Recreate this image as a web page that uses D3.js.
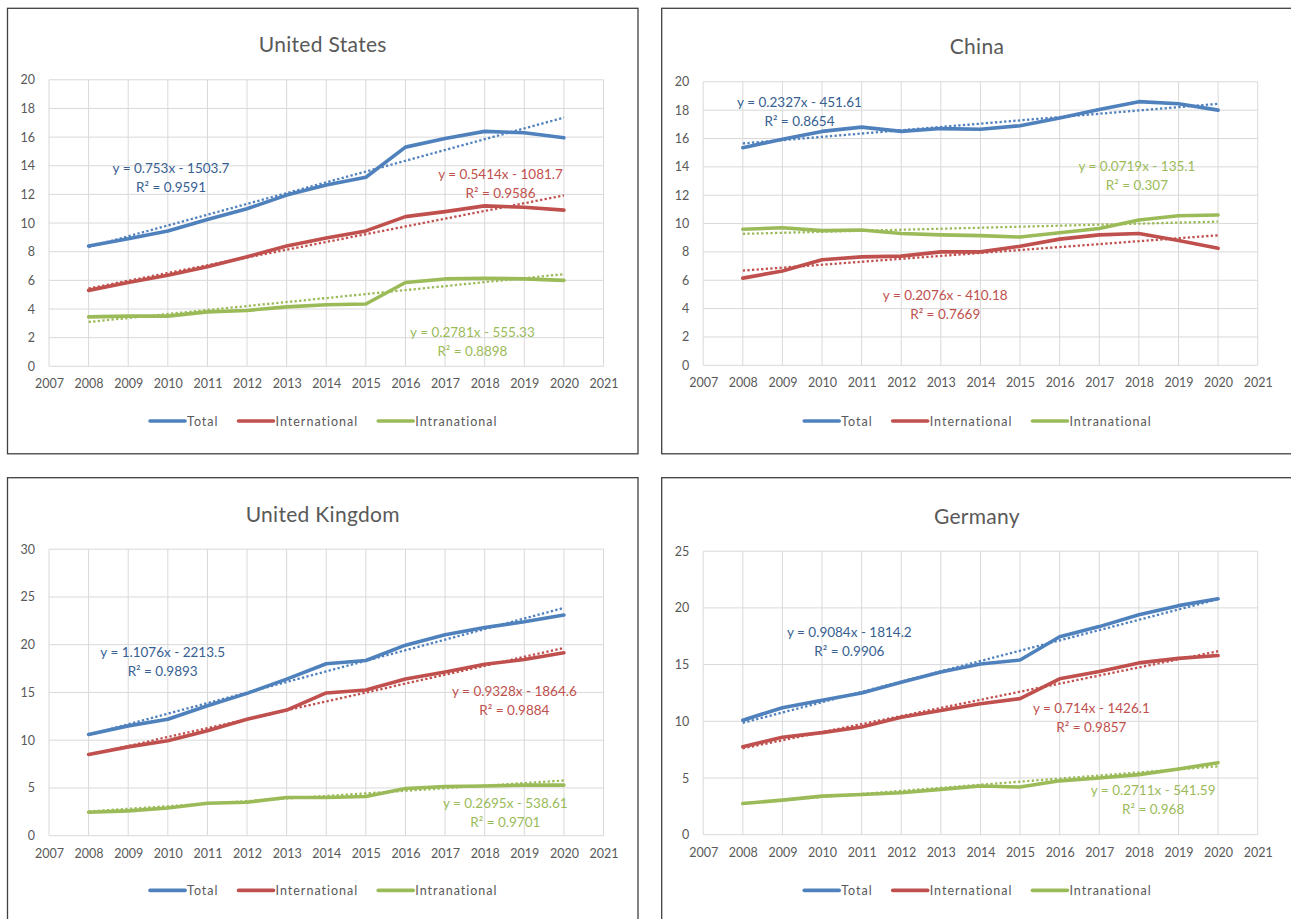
<!DOCTYPE html>
<html>
<head>
<meta charset="utf-8">
<script src="https://cdn.jsdelivr.net/npm/d3@7"></script>
<style>
  body { margin: 0; background: #fff; }
  svg { display: block; }
</style>
</head>
<body>
<svg id="chart" width="1291" height="919"></svg>
<script>
// values
const years = [2008, 2009, 2010, 2011, 2012, 2013, 2014, 2015, 2016, 2017, 2018, 2019, 2020];
const series_names = ['Total', 'International', 'Intranational'];

const us_total = [8.4, 8.9, 9.45, 10.25, 11.0, 11.95, 12.65, 13.2, 15.3, 15.9, 16.4, 16.3, 15.95];
const us_international = [5.3, 5.85, 6.35, 6.95, 7.65, 8.4, 8.95, 9.45, 10.45, 10.8, 11.2, 11.1, 10.9];
const us_intranational = [3.45, 3.5, 3.5, 3.8, 3.9, 4.15, 4.3, 4.35, 5.85, 6.1, 6.15, 6.1, 6.0];

const cn_total = [15.35, 15.95, 16.5, 16.8, 16.5, 16.7, 16.65, 16.9, 17.45, 18.05, 18.6, 18.45, 18.0];
const cn_international = [6.15, 6.65, 7.45, 7.65, 7.7, 8.0, 8.0, 8.4, 8.9, 9.2, 9.3, 8.8, 8.25];
const cn_intranational = [9.6, 9.7, 9.5, 9.55, 9.3, 9.2, 9.15, 9.05, 9.35, 9.65, 10.25, 10.55, 10.6];

const uk_total = [10.6, 11.5, 12.2, 13.6, 14.9, 16.4, 18.0, 18.35, 19.95, 21.05, 21.8, 22.4, 23.1];
const uk_international = [8.5, 9.3, 9.95, 11.0, 12.2, 13.15, 14.95, 15.25, 16.4, 17.15, 17.95, 18.45, 19.15];
const uk_intranational = [2.45, 2.6, 2.9, 3.4, 3.5, 4.0, 4.0, 4.1, 4.95, 5.15, 5.2, 5.3, 5.3];

const de_total = [10.1, 11.2, 11.85, 12.5, 13.45, 14.35, 15.05, 15.4, 17.45, 18.35, 19.4, 20.2, 20.8];
const de_international = [7.75, 8.6, 9.0, 9.5, 10.35, 10.95, 11.55, 12.0, 13.75, 14.4, 15.15, 15.55, 15.8];
const de_intranational = [2.75, 3.05, 3.4, 3.55, 3.7, 4.0, 4.3, 4.2, 4.75, 5.0, 5.3, 5.8, 6.35];

// trendline equations printed on the chart: [slope, intercept, r2]
const us_trends = [[0.753, -1503.7, 0.9591], [0.5414, -1081.7, 0.9586], [0.2781, -555.33, 0.8898]];
const cn_trends = [[0.2327, -451.61, 0.8654], [0.2076, -410.18, 0.7669], [0.0719, -135.1, 0.307]];
const uk_trends = [[1.1076, -2213.5, 0.9893], [0.9328, -1864.6, 0.9884], [0.2695, -538.61, 0.9701]];
const de_trends = [[0.9084, -1814.2, 0.9906], [0.714, -1426.1, 0.9857], [0.2711, -541.59, 0.968]];

const x_ticks = d3.range(2007, 2022);

const colors = ['#4F81BD', '#C0504D', '#9BBB59'];
const label_colors = ['#376092', '#C0504D', '#9BBB59'];
const font = 'Lato, "Open Sans", sans-serif';
const grey = '#595959';

const panel_w = 630.5, panel_h = 445.5;

const panels = [
    { title: 'United States', x: 7.5, y: 8.3, dy: 0, max: 20, step: 2,
      data: [us_total, us_international, us_intranational], trends: us_trends,
      labels: [[2010.08, 13.84], [2018.4, 13.43], [2017.69, 2.37]] },
    { title: 'China', x: 661.7, y: 8.3, dy: 2, max: 20, step: 2,
      data: [cn_total, cn_international, cn_intranational], trends: cn_trends,
      labels: [[2009.43, 18.56], [2013.11, 4.94], [2017.95, 14.04]] },
    { title: 'United Kingdom', x: 7.5, y: 477.7, dy: 0, max: 30, step: 5,
      data: [uk_total, uk_international, uk_intranational], trends: uk_trends,
      labels: [[2009.87, 19.22], [2018.75, 15.14], [2018.52, 3.42]] },
    { title: 'Germany', x: 661.7, y: 477.7, dy: 2, max: 25, step: 5,
      data: [de_total, de_international, de_intranational], trends: de_trends,
      labels: [[2010.69, 17.84], [2016.8, 11.14], [2018.36, 3.91]] },
];

const svg = d3.select('#chart');

function draw_panel(p) {
    const g = svg.append('g').attr('transform', `translate(${p.x}, ${p.y})`);

    g.append('rect')
        .attr('width', panel_w)
        .attr('height', panel_h)
        .attr('fill', '#fff')
        .attr('stroke', '#404040')
        .attr('stroke-width', 1.3);

    const left = 41.5, right = 596, top = 71.5 + p.dy, bottom = 358 - p.dy / 2;

    const x = d3.scaleLinear().domain([2007, 2021]).range([left, right]);
    const y = d3.scaleLinear().domain([0, p.max]).range([bottom, top]);
    const y_ticks = d3.range(0, p.max + 0.001, p.step);

    g.append('text')
        .attr('x', panel_w / 2)
        .attr('y', 35.5 + p.dy)
        .attr('text-anchor', 'middle')
        .attr('dominant-baseline', 'central')
        .style('font-family', font)
        .style('font-size', '21px')
        .style('letter-spacing', '0.3px')
        .style('fill', grey)
        .text(p.title);

    // grid
    g.append('g').selectAll('line')
        .data(y_ticks)
        .join('line')
        .attr('x1', left).attr('x2', right)
        .attr('y1', d => y(d)).attr('y2', d => y(d))
        .attr('stroke', '#D9D9D9').attr('stroke-width', 1);

    g.append('g').selectAll('line')
        .data(x_ticks)
        .join('line')
        .attr('x1', d => x(d)).attr('x2', d => x(d))
        .attr('y1', top).attr('y2', bottom)
        .attr('stroke', '#D9D9D9').attr('stroke-width', 1);

    // axes
    const y_axis = g.append('g')
        .attr('transform', `translate(${left}, 0)`)
        .call(d3.axisLeft(y).tickValues(y_ticks).tickSize(0).tickPadding(14));
    const x_axis = g.append('g')
        .attr('transform', `translate(0, ${bottom})`)
        .call(d3.axisBottom(x).tickValues(x_ticks).tickFormat(d3.format('d')).tickSize(0).tickPadding(13));

    [y_axis, x_axis].forEach(ax => {
        ax.select('.domain').remove();
        ax.selectAll('text')
            .style('font-family', font)
            .style('font-size', '12.5px')
            .style('fill', grey);
    });

    const line = d3.line()
        .x((d, i) => x(years[i]))
        .y(d => y(d));

    // trendlines (dotted) from the printed equations
    p.trends.forEach((t, k) => {
        const ends = [years[0], years[years.length - 1]].map(yr => t[0] * yr + t[1]);
        g.append('line')
            .attr('x1', x(years[0])).attr('y1', y(ends[0]))
            .attr('x2', x(years[years.length - 1])).attr('y2', y(ends[1]))
            .attr('stroke', colors[k])
            .attr('stroke-width', 2.3)
            .attr('stroke-dasharray', '2.3,2.3');
    });

    p.data.forEach((values, k) => {
        g.append('path')
            .datum(values)
            .attr('d', line)
            .attr('fill', 'none')
            .attr('stroke', colors[k])
            .attr('stroke-width', 3.6)
            .attr('stroke-linejoin', 'round')
            .attr('stroke-linecap', 'round');
    });

    // trendline labels
    p.trends.forEach((t, k) => {
        const [lx, ly] = p.labels[k];
        const txt = g.append('text')
            .attr('text-anchor', 'middle')
            .style('font-family', font)
            .style('font-size', '13.5px')
            .style('fill', label_colors[k]);
        txt.append('tspan')
            .attr('x', x(lx)).attr('y', y(ly)).attr('dominant-baseline', 'central')
            .text(`y = ${t[0]}x - ${Math.abs(t[1])}`);
        txt.append('tspan')
            .attr('x', x(lx)).attr('y', y(ly) + 18.7).attr('dominant-baseline', 'central')
            .text(`R² = ${t[2]}`);
    });

    // legend
    const legend = g.append('g');
    let cursor = 0;
    series_names.forEach((name, k) => {
        const item = legend.append('g');
        item.append('line')
            .attr('x1', 0).attr('x2', 35)
            .attr('stroke', colors[k])
            .attr('stroke-width', 3.6)
            .attr('stroke-linecap', 'round');
        const t = item.append('text')
            .attr('x', 37)
            .attr('dominant-baseline', 'central')
            .style('font-family', font)
            .style('font-size', '12.5px')
            .style('letter-spacing', '1px')
            .style('fill', grey)
            .text(name);
        const w = 37 + t.node().getComputedTextLength();
        item.attr('transform', `translate(${cursor}, 0)`);
        cursor += w + 20;
    });
    const total_w = cursor - 20;
    legend.attr('transform', `translate(${panel_w / 2 - total_w / 2 + 1}, 412.7)`);
}

panels.forEach(draw_panel);
</script>
</body>
</html>
